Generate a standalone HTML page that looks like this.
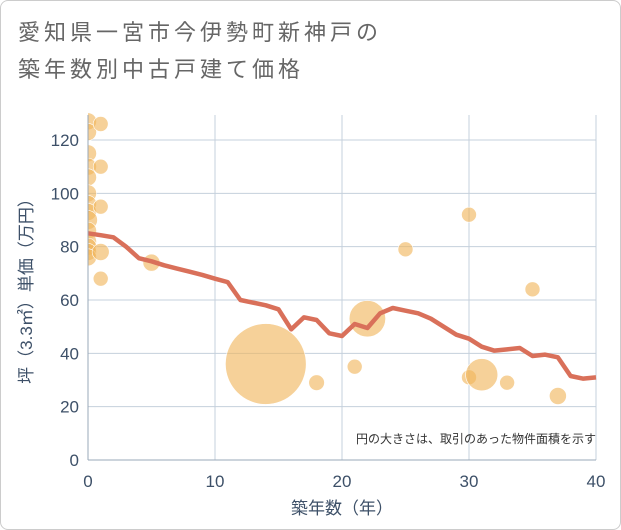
<!DOCTYPE html>
<html><head><meta charset="utf-8"><style>
body{margin:0;background:#fff;font-family:"Liberation Sans","Noto Sans CJK JP",sans-serif;}
#wrap{position:relative;width:619px;height:528px;border:1px solid #ccc;border-radius:8px;overflow:hidden}
</style></head><body>
<div id="wrap">
<svg id="c" width="621" height="530" style="position:absolute;left:-1px;top:-1px">
<defs><clipPath id="plotclip"><rect x="88" y="100" width="520" height="360"/></clipPath></defs>
<text x="18" y="40" font-size="22" letter-spacing="4" fill="#666">愛知県一宮市今伊勢町新神戸の</text>
<text x="18" y="77" font-size="22" letter-spacing="4" fill="#666">築年数別中古戸建て価格</text>
<g id="grid"></g><g id="bubbles" clip-path="url(#plotclip)"></g><g id="line"></g><g id="axes"></g>
<text x="596" y="443" font-size="12" fill="#333" text-anchor="end">円の大きさは、取引のあった物件面積を示す</text>
<text x="342" y="514" font-size="17" fill="#3d5068" text-anchor="middle">築年数（年）</text>
<text transform="translate(32,287) rotate(-90)" font-size="17" fill="#3d5068" text-anchor="middle">坪（3.3㎡）単価（万円）</text>
</svg></div>
<script>
const xTicks=[0,10,20,30,40];
const yTicks=[0,20,40,60,80,100,120];
const lineYears=[0,1,2,3,4,5,6,7,8,9,10,11,12,13,14,15,16,17,18,19,20,21,22,23,24,25,26,27,28,29,30,31,32,33,34,35,36,37,38,39,40];
const lineValues=[85,84.3,83.5,80,75.7,74.5,73,71.8,70.6,69.4,68,66.7,60,59,58,56.5,49,53.5,52.5,47.5,46.5,51,49.5,55,57,56,55,53,50,47,45.5,42.5,41,41.5,42,39,39.5,38.5,31.5,30.5,31];
const bubbleYears=[0,0,0,0,0,0,0,0,0,0,0,0,0,0,1,1,1,1,1,5,14,18,21,22,25,30,30,31,33,35,37];
const bubbleValues=[127,123,115,110,106,100,96,93,90,86,82,80,78,76,126,110,95,78,68,74,36,29,35,53,79,92,31,32,29,64,24];
const bubbleSizes=[1.3,1.3,1.3,1.3,1.3,1.3,1.3,1.3,1.6,1.3,1.3,1.3,1.3,1.3,1,1,1,1.3,1,1.3,29,1.1,1,5.9,1,1,1,4.6,1,1,1.3];
const X0=88,X1=596,Y0=460,Y1=140;
const sx=v=>X0+(v-0)/40*(X1-X0);
const sy=v=>Y0-(v/120)*(Y0-Y1);
const NS="http://www.w3.org/2000/svg";
function mk(t,p,a){const e=document.createElementNS(NS,t);for(const k in a)e.setAttribute(k,a[k]);p.appendChild(e);return e;}
const grid=document.getElementById('grid'),axes=document.getElementById('axes');
xTicks.forEach(t=>{
 const l=mk('line',grid,{x1:sx(t),x2:sx(t),y1:115,y2:Y0,stroke:'#c5d0dc','stroke-width':1});
 
 
 const tx=mk('text',axes,{x:sx(t),y:487,'font-size':17,fill:'#3d5068','text-anchor':'middle'});tx.textContent=t;
 
 
});
yTicks.forEach(t=>{
 const l=mk('line',grid,{x1:X0,x2:X1,y1:sy(t),y2:sy(t),stroke:'#c5d0dc','stroke-width':1});
 
 
 const tx=mk('text',axes,{x:79,y:sy(t)+6,'font-size':17,fill:'#3d5068','text-anchor':'end'});tx.textContent=t;
 
 
});
const ax=mk('line',axes,{x1:X0,x2:X0,y1:115,y2:Y0,stroke:'#9aa8b8'});


const bx=mk('line',axes,{x1:X0,x2:X1,y1:Y0,y2:Y0,stroke:'#9aa8b8'});


const bg=document.getElementById('bubbles');
bubbleYears.forEach((yr,i)=>{
 const c=mk('circle',bg,{cx:sx(yr),cy:sy(bubbleValues[i]),r:7.5*Math.sqrt(bubbleSizes[i]),fill:'rgba(240,180,90,0.62)',stroke:'#fff','stroke-width':0.6});
 
 
});
const pts=lineYears.map((y,i)=>sx(y)+','+sy(lineValues[i])).join(' ');
const pl=mk('polyline',document.getElementById('line'),{points:pts,fill:'none',stroke:'#d9705a','stroke-width':4.5,'stroke-linejoin':'round'});


</script>
</body></html>
